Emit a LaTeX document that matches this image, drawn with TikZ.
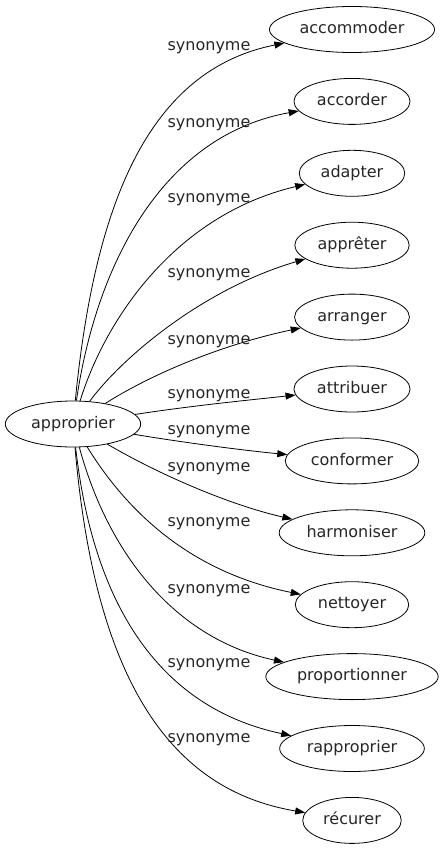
\documentclass[tikz,border=0pt]{standalone}
\usepackage{fontspec}
\setmainfont{DejaVu Sans}
\usetikzlibrary{arrows.meta, shapes.geometric}

\begin{document}
\begin{tikzpicture}[x=1pt, y=-1pt, font=\fontsize{16}{18}\selectfont]

  % Define styles
  \tikzset{
    word/.style={draw=black, line width=0.8pt, ellipse, text=black!85,
      inner xsep=6pt, inner ysep=0pt, minimum height=46pt,
      text height=12pt, text depth=3.5pt},
    syn/.style={text=black!85, inner sep=0pt, text height=12pt, text depth=3.5pt},
    edge/.style={-{Triangle[length=10pt,width=7pt]}, line width=0.8pt}
  }

  \useasboundingbox (0,0) rectangle (443,851);

%% Root word
  \node[word] (appr) at (73,424) {approprier};

%% Synonyms
  \node[word] (accommoder)    at (352,29.5)  {accommoder};
  \node[word] (accorder)      at (352,101.4) {accorder};
  \node[word] (adapter)       at (352,173.3) {adapter};
  \node[word] (appreter)      at (352,245.2) {apprêter};
  \node[word] (arranger)      at (352,317.1) {arranger};
  \node[word] (attribuer)     at (352,389)   {attribuer};
  \node[word] (conformer)     at (352,460.9) {conformer};
  \node[word] (harmoniser)    at (352,532.8) {harmoniser};
  \node[word] (nettoyer)      at (352,604.7) {nettoyer};
  \node[word] (proportionner) at (352,676.6) {proportionner};
  \node[word] (rapproprier)   at (352,748.5) {rapproprier};
  \node[word] (recurer)       at (352,820.4) {récurer};

%% Edges
  \draw[edge] (appr) .. controls (95,200) and (150,70) .. (accommoder);
  \draw[edge] (appr) .. controls (97,260) and (165,135) .. (accorder);
  \draw[edge] (appr) .. controls (105,320) and (175,215) .. (adapter);
  \draw[edge] (appr) .. controls (120,360) and (200,290) .. (appreter);
  \draw[edge] (appr) .. controls (150,375) and (220,345) .. (arranger);
  \draw[edge] (appr) .. controls (190,406) and (240,401) .. (attribuer);
  \draw[edge] (appr) .. controls (180,442) and (240,450) .. (conformer);
  \draw[edge] (appr) .. controls (160,475) and (230,505) .. (harmoniser);
  \draw[edge] (appr) .. controls (120,500) and (180,570) .. (nettoyer);
  \draw[edge] (appr) .. controls (110,560) and (180,640) .. (proportionner);
  \draw[edge] (appr) .. controls (95,620) and (170,710) .. (rapproprier);
  \draw[edge] (appr) .. controls (95,680) and (170,790) .. (recurer);

%% Edge labels
  \node[syn] (l1)  at (209,46)  {synonyme};
  \node[syn] (l2)  at (209,123) {synonyme};
  \node[syn] (l3)  at (209,198) {synonyme};
  \node[syn] (l4)  at (209,273) {synonyme};
  \node[syn] (l5)  at (209,340) {synonyme};
  \node[syn] (l6)  at (209,394) {synonyme};
  \node[syn] (l7)  at (209,430) {synonyme};
  \node[syn] (l8)  at (209,467) {synonyme};
  \node[syn] (l9)  at (209,522) {synonyme};
  \node[syn] (l10) at (209,589) {synonyme};
  \node[syn] (l11) at (209,663) {synonyme};
  \node[syn] (l12) at (209,738) {synonyme};

\end{tikzpicture}
\end{document}
